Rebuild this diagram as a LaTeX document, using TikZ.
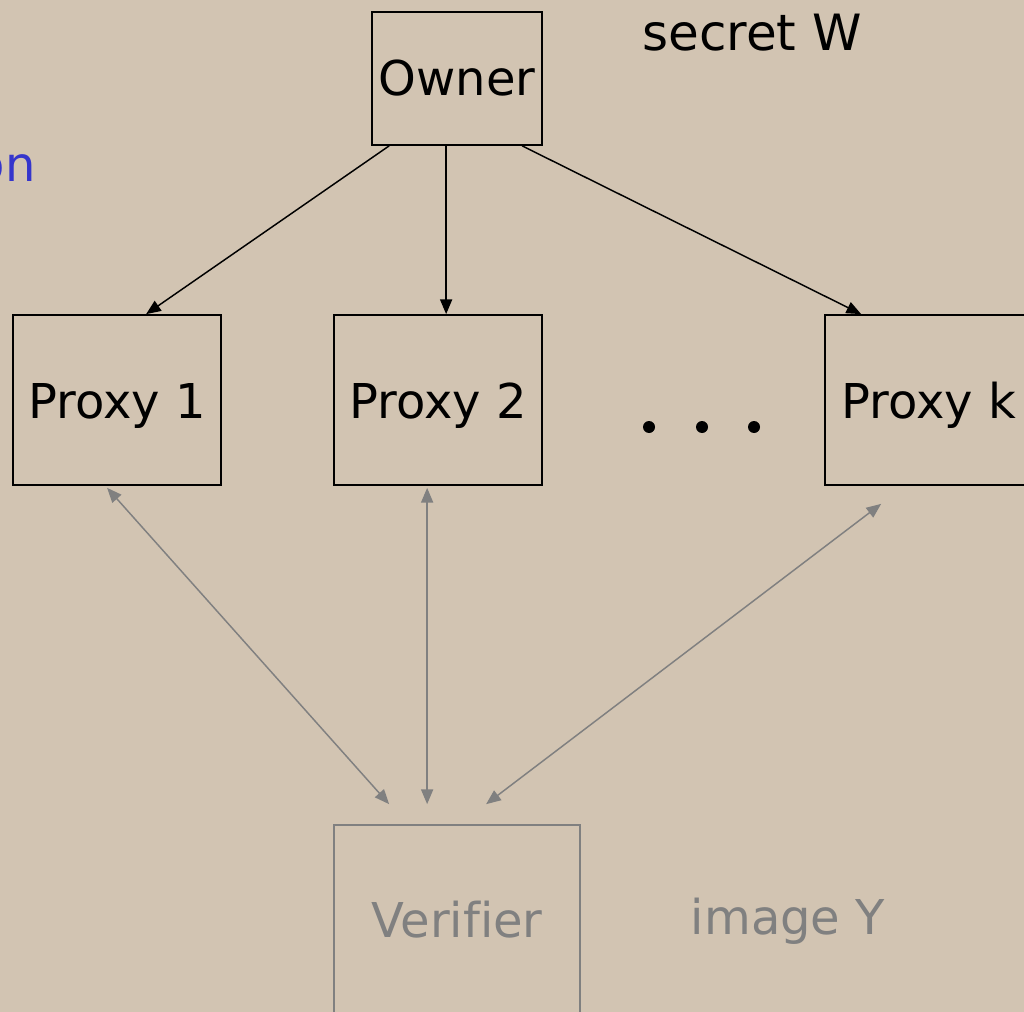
\documentclass[tikz,border=0pt]{standalone}
\usepackage{fontspec}
\setmainfont{DejaVu Sans}[Ligatures=NoCommon]
\usetikzlibrary{arrows.meta,calc}
\definecolor{paper}{HTML}{D2C4B2}
\definecolor{dimgray}{HTML}{808080}
\definecolor{noteblue}{HTML}{3535CC}
\tikzset{
  party/.style={draw=black,line width=1.3pt,inner sep=0pt,font=\fontsize{36}{40}\selectfont},
  proxybox/.style={party,minimum width=156pt,minimum height=127.5pt,text height=33pt,text depth=6pt},
  faded/.style={draw=dimgray,line width=1.3pt,inner sep=0pt,text=dimgray,font=\fontsize{36}{40}\selectfont},
  hand/.style={-{Triangle[length=11pt,width=9pt]},line width=1.1pt,draw=black},
  query/.style={{Triangle[length=11pt,width=9pt]}-{Triangle[length=11pt,width=9pt]},line width=1.1pt,draw=dimgray,fill=dimgray},
  label/.style={font=\fontsize{36}{40}\selectfont,inner sep=0pt}
}
\begin{document}
\begin{tikzpicture}[x=0.75pt,y=-0.75pt]
  \useasboundingbox (0,0) rectangle (1024,1012);
  \fill[paper] (0,0) rectangle (1024,1012);
  \clip (0,0) rectangle (1024,1012);

  % parties
  \node[party,minimum width=127.5pt,minimum height=99.75pt] (owner) at (457,78.5) {Owner};
  \node[proxybox] (p1) at (117,400) {Proxy 1};
  \node[proxybox] (p2) at (438,400) {Proxy 2};
  \node[proxybox] (pk) at (929,400) {Proxy k};
  \node[faded,minimum width=184.5pt,minimum height=150pt] (ver) at (457,925) {};
  \node[label,text=dimgray] (vlabel) at (457,920) {Verifier};

  % side notes
  \node[label,font=\fontsize{37.5}{42}\selectfont] (secret) at (752,33) {secret W};
  \node[label,text=dimgray] (image) at (788,921) {image Y};
  \node[label,text=noteblue,anchor=east] (note) at (36,168) {on};

  % ellipsis between the proxies
  \foreach \x [count=\i] in {649,702,754}
    \fill (\x,427) circle (4.5pt) coordinate (dot\i);

  % owner hands out shares
  \draw[hand] ($(owner.south west)+(18,0)$) -- ($(p1.north west)+(134,0)$);
  \draw[hand] ($(owner.south west)+(75,0)$) -- ($(p2.north west)+(113,0)$);
  \draw[hand] ($(owner.south west)+(151,0)$) -- ($(pk.north west)+(37,0)$);

  % verifier talks to each proxy
  \draw[query] ($(p1.south west)+(95,2)$) -- ($(ver.north west)+(56,-20)$);
  \draw[query] ($(p2.south west)+(94,2)$) -- ($(ver.north west)+(94,-20)$);
  \draw[query] ($(pk.south west)+(57,18)$) -- ($(ver.north west)+(153,-20)$);
\end{tikzpicture}
\end{document}
